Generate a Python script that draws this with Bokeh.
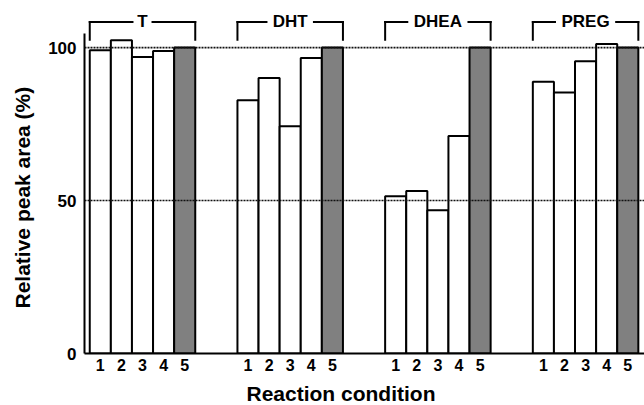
from bokeh.plotting import figure
from bokeh.models import FixedTicker, Range1d, ColumnDataSource, Span, Title
from bokeh.core.properties import value
from bokeh.embed import file_html
from bokeh.resources import INLINE

# ---- data ----
groups = ["T", "DHT", "DHEA", "PREG"]
conditions = ["1", "2", "3", "4", "5"]
T_vals = [99.1, 102.4, 96.9, 98.9, 100.0]
DHT_vals = [82.8, 90.1, 74.3, 96.6, 100.0]
DHEA_vals = [51.4, 53.1, 46.8, 71.1, 100.0]
PREG_vals = [88.8, 85.3, 95.5, 101.2, 100.0]
y_ticks = [0, 50, 100]
reference_lines = [50, 100]
x_title = "Reaction condition"
y_title = "Relative peak area (%)"

series = [T_vals, DHT_vals, DHEA_vals, PREG_vals]

FONT = "Liberation Sans"
GROUP_STEP = 7

xs, tops, fills, tick_pos, tick_lab = [], [], [], [], {}
for g, vals in enumerate(series):
    for i, v in enumerate(vals):
        x = GROUP_STEP * g + i + 1
        xs.append(x)
        tops.append(v)
        fills.append("#808080" if i == len(vals) - 1 else "white")
        tick_pos.append(x)
        tick_lab[x] = conditions[i]

p = figure(frame_width=561, frame_height=353, output_backend="svg",
           toolbar_location=None,
           x_range=Range1d(0.251, 26.84), y_range=Range1d(0, 115.4),
           min_border_left=83, min_border_right=0, min_border_top=0,
           min_border_bottom=0)
p.outline_line_color = None
p.xgrid.visible = False
p.ygrid.visible = False
p.background_fill_color = "white"

src = ColumnDataSource(dict(x=xs, top=tops, fill=fills))
p.vbar(x="x", top="top", bottom=0, width=1.0, source=src, fill_color="fill",
       line_color="black", line_width=2)

# dotted reference lines on top of bars
for r in reference_lines:
    p.add_layout(Span(location=r, dimension="width", line_color="#111111",
                      line_width=1.6, line_dash="2 1", level="overlay"))

# group brackets
BR_Y = 108.4
BR_LOW = 102.6
hx0, hx1, hy0, hy1 = [], [], [], []
for g, name in enumerate(groups):
    left = GROUP_STEP * g + 0.5
    right = GROUP_STEP * g + 5.5
    mid = GROUP_STEP * g + 3
    half = (0.3 + 0.65 * len(name)) / 2
    hx0 += [left, mid + half]
    hx1 += [mid - half, right]
    hy0 += [BR_Y, BR_Y]
    hy1 += [BR_Y, BR_Y]
    hx0 += [left, right]
    hx1 += [left, right]
    hy0 += [BR_Y, BR_Y]
    hy1 += [BR_LOW, BR_LOW]
p.segment(x0=hx0, y0=hy0, x1=hx1, y1=hy1, line_color="black", line_width=2,
          line_cap="square")
p.text(x=[GROUP_STEP * g + 3 for g in range(len(groups))], y=[BR_Y] * len(groups),
       text=groups, text_align="center", text_baseline="middle",
       text_font=value(FONT), text_font_style="bold", text_font_size="17px",
       text_color="black")

# axes
xa = p.xaxis[0]
xa.ticker = FixedTicker(ticks=tick_pos)
xa.major_label_overrides = tick_lab
xa.major_tick_out = 0
xa.major_tick_in = 0
xa.minor_tick_out = 0
xa.minor_tick_in = 0
xa.axis_line_width = 2
xa.major_label_standoff = 5
xa.major_label_text_font = FONT
xa.major_label_text_font_style = "bold"
xa.major_label_text_font_size = "16px"
xa.major_label_text_color = "black"

ya = p.yaxis[0]
ya.ticker = FixedTicker(ticks=y_ticks)
ya.bounds = (0, 104.7)
ya.major_tick_out = 0
ya.major_tick_in = 0
ya.minor_tick_out = 0
ya.minor_tick_in = 0
ya.axis_line_width = 2
ya.major_label_standoff = 8
ya.major_label_text_font = FONT
ya.major_label_text_font_style = "bold"
ya.major_label_text_font_size = "17px"
ya.major_label_text_color = "black"

p.add_layout(Title(text=x_title, align="left", offset=162, standoff=12,
                   text_font=FONT, text_font_style="bold", text_font_size="21px",
                   text_color="black"), "below")
p.add_layout(Title(text=y_title, align="left", offset=45, standoff=20,
                   vertical_align="top",
                   text_font=FONT, text_font_style="bold", text_font_size="21px",
                   text_color="black"), "left")

open("out.html", "w").write(file_html(p, INLINE))
